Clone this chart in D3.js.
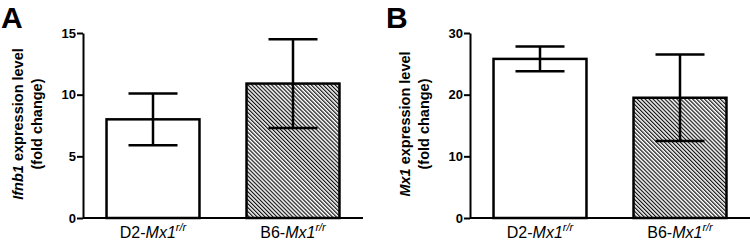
<!DOCTYPE html>
<html>
<head>
<meta charset="utf-8">
<script src="https://cdn.jsdelivr.net/npm/d3@7"></script>
<style>
  body { margin: 0; background: #fff; }
  svg { font-family: "Liberation Sans", Arial, sans-serif; }
  .tick text { font-size: 13px; font-weight: bold; fill: #000; }
  .tick line, .domain { stroke: #000; stroke-width: 2px; }
</style>
</head>
<body>
<svg id="chart" width="750" height="243"></svg>
<script>
// data
const strains = ["D2", "B6"];
const ifnb1Mean = [8.0, 10.9];
const ifnb1Err = [2.1, 3.6];
const mx1Mean = [25.8, 19.5];
const mx1Err = [2.0, 7.0];
const ifnb1Ticks = [0, 5, 10, 15];
const mx1Ticks = [0, 10, 20, 30];

const svg = d3.select("#chart");

// hatch for the B6 bars
const defs = svg.append("defs");
defs.append("pattern")
    .attr("id", "hatch")
    .attr("patternUnits", "userSpaceOnUse")
    .attr("width", 2.8)
    .attr("height", 2.8)
    .attr("patternTransform", "rotate(-45)")
  .append("rect")
    .attr("x", 0).attr("y", 0)
    .attr("width", 1.2).attr("height", 2.8)
    .attr("fill", "#111");

function drawPanel(opts) {
    const top = 33, bottom = 218, width = 280;
    const g = svg.append("g").attr("transform", `translate(${opts.left},0)`);

    const x = d3.scaleBand()
        .domain(strains)
        .range([0, width])
        .paddingInner(0.336)
        .paddingOuter(0.168);

    const y = d3.scaleLinear()
        .domain([0, d3.max(opts.ticks)])
        .range([bottom, top]);

    // panel letter
    svg.append("text")
        .attr("x", opts.left - opts.letterOff)
        .attr("y", 28)
        .attr("font-size", 30)
        .attr("font-weight", "bold")
        .text(opts.letter);

    // bars
    g.selectAll("rect.bar")
        .data(strains)
        .enter().append("rect")
        .attr("class", "bar")
        .attr("x", d => x(d))
        .attr("width", x.bandwidth())
        .attr("y", (d, i) => y(opts.mean[i]))
        .attr("height", (d, i) => bottom - y(opts.mean[i]))
        .attr("fill", (d, i) => i == 0 ? "#fff" : "url(#hatch)")
        .attr("stroke", "#000")
        .attr("stroke-width", 2.5);

    // error bars
    const capW = 49;
    strains.forEach((s, i) => {
        const cx = x(s) + x.bandwidth() / 2;
        const hi = y(opts.mean[i] + opts.err[i]);
        const lo = y(opts.mean[i] - opts.err[i]);
        const eg = g.append("g").attr("stroke", "#000").attr("stroke-width", 2.5);
        eg.append("line").attr("x1", cx).attr("x2", cx).attr("y1", hi).attr("y2", lo);
        eg.append("line").attr("x1", cx - capW / 2).attr("x2", cx + capW / 2).attr("y1", hi).attr("y2", hi);
        eg.append("line").attr("x1", cx - capW / 2).attr("x2", cx + capW / 2).attr("y1", lo).attr("y2", lo);
    });

    // axes
    g.append("g")
        .call(d3.axisLeft(y).tickValues(opts.ticks).tickFormat(d3.format("d"))
            .tickSize(6).tickSizeOuter(0).tickPadding(1));

    g.append("line")
        .attr("x1", 0).attr("x2", width)
        .attr("y1", bottom).attr("y2", bottom)
        .attr("stroke", "#000").attr("stroke-width", 2);

    // category labels
    strains.forEach(s => {
        const t = g.append("text")
            .attr("x", x(s) + x.bandwidth() / 2)
            .attr("y", 238)
            .attr("text-anchor", "middle")
            .attr("font-size", 16);
        t.append("tspan").text(s + "-");
        t.append("tspan").attr("font-style", "italic").text("Mx1");
        t.append("tspan").attr("font-style", "italic").attr("font-size", 11)
            .attr("dy", -7).text("r/r");
    });

    // y title
    const yt = g.append("g")
        .attr("transform", `translate(${-60},124) rotate(-90)`)
        .attr("font-weight", "bold")
        .attr("font-size", 14.5)
        .attr("text-anchor", "middle");
    const l1 = yt.append("text").attr("x", 0).attr("y", 0);
    l1.append("tspan").attr("font-style", "italic").text(opts.gene);
    l1.append("tspan").text(" expression level");
    yt.append("text").attr("x", 0).attr("y", 19).text("(fold change)");
}

drawPanel({ left: 83, letter: "A", letterOff: 82, mean: ifnb1Mean, err: ifnb1Err, ticks: ifnb1Ticks, gene: "Ifnb1" });
drawPanel({ left: 470, letter: "B", letterOff: 84, mean: mx1Mean, err: mx1Err, ticks: mx1Ticks, gene: "Mx1" });
</script>
</body>
</html>
